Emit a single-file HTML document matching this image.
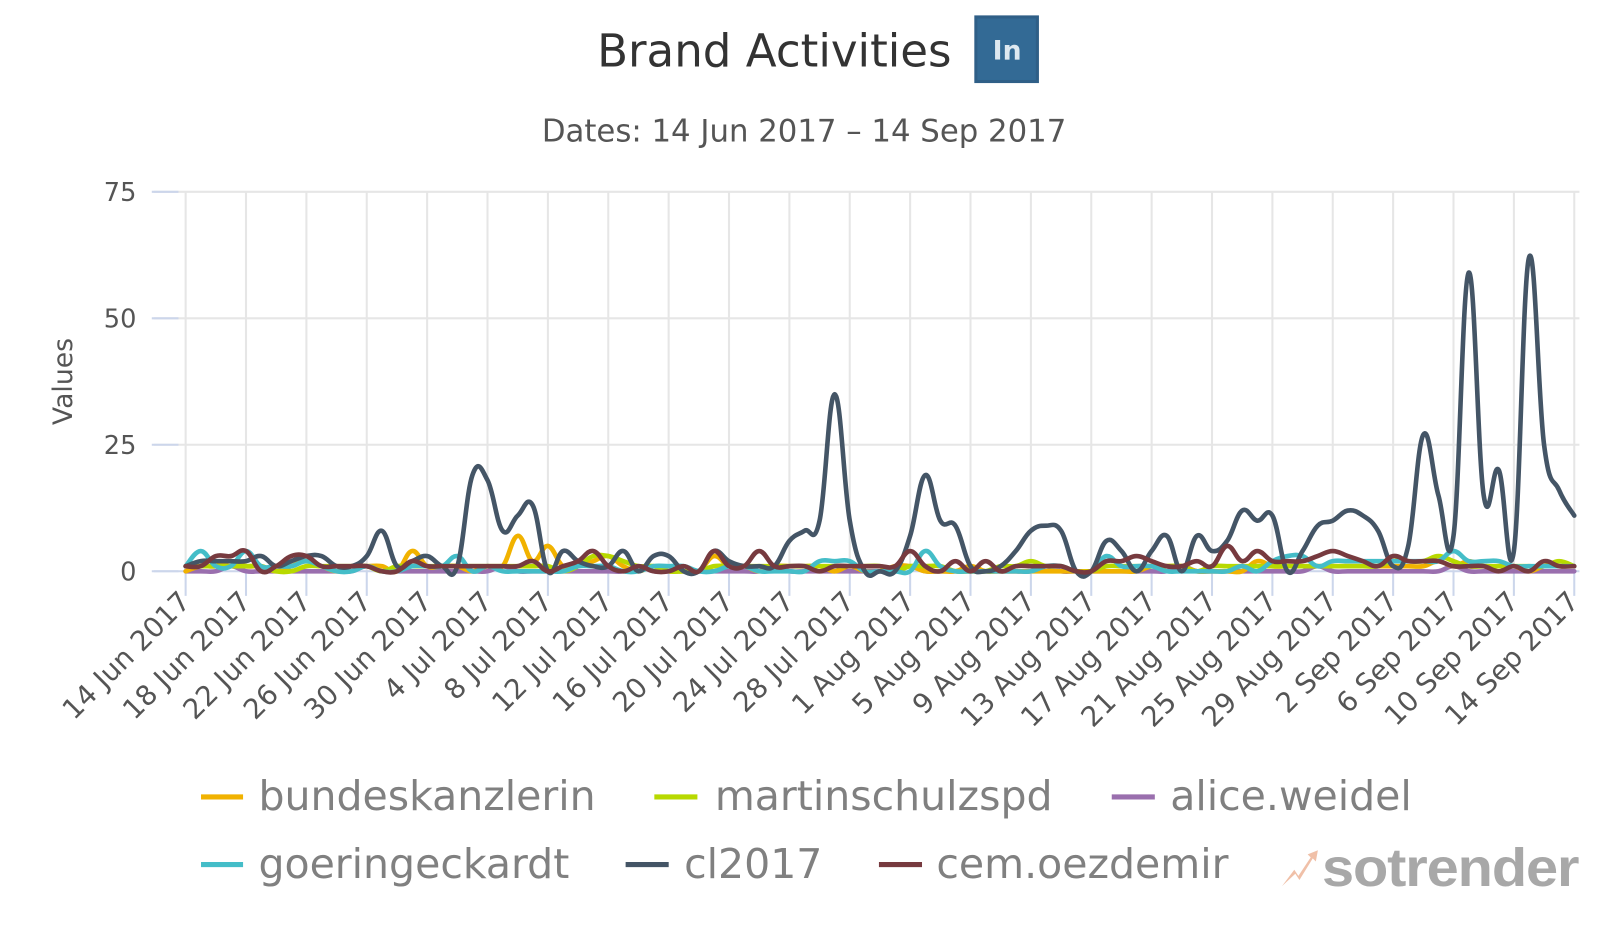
<!DOCTYPE html>
<html><head><meta charset="utf-8"><style>
body{margin:0;background:#fff;overflow:hidden;}
svg{display:block;font-family:"DejaVu Sans","Liberation Sans",sans-serif;}
</style></head><body>
<svg width="1600" height="925" viewBox="0 0 1600 925" xmlns="http://www.w3.org/2000/svg">
<g transform="scale(1.0256)">
<text x="755" y="65" font-size="44" text-anchor="middle" fill="#333">Brand Activities</text>
<rect x="950" y="15" width="63" height="66" fill="#2f5f87"/>
<rect x="953" y="18" width="57" height="60" fill="#336a95"/>
<text x="982" y="58" font-size="26" font-weight="bold" text-anchor="middle" fill="#dde8f0">In</text>
<text x="784" y="138" font-size="30" text-anchor="middle" fill="#555">Dates: 14 Jun 2017 – 14 Sep 2017</text>
<g id="grid"></g>
<text transform="translate(70,372) rotate(-90)" font-size="26" text-anchor="middle" fill="#555">Values</text>
<g id="series" fill="none" stroke-width="4.5" stroke-linejoin="round" stroke-linecap="round"></g>
<g font-size="40" fill="#808080">
<line x1="196" y1="777" x2="237" y2="777" stroke="#f1b200" stroke-width="5"/><text x="252" y="790">bundeskanzlerin</text>
<line x1="638" y1="777" x2="680" y2="777" stroke="#b8d900" stroke-width="5"/><text x="697" y="790">martinschulzspd</text>
<line x1="1084" y1="777" x2="1126" y2="777" stroke="#9a6fae" stroke-width="5"/><text x="1141" y="790">alice.weidel</text>
<line x1="196" y1="843" x2="237" y2="843" stroke="#44bdc8" stroke-width="5"/><text x="252" y="856">goeringeckardt</text>
<line x1="610" y1="843" x2="652" y2="843" stroke="#445566" stroke-width="5"/><text x="667" y="856">cl2017</text>
<line x1="857" y1="843" x2="899" y2="843" stroke="#773a3f" stroke-width="5"/><text x="913" y="856">cem.oezdemir</text>
</g>
<path d="M1250 864 L1262 848 L1266 854 L1278 836 L1275 833 L1285 829 L1283 840 L1280 837 L1267 858 L1263 852 Z" fill="#f0c0a8"/>
<text x="1289" y="864" font-size="52" font-weight="bold" fill="#a8a8a8" letter-spacing="-1" font-family="Liberation Sans, sans-serif" textLength="250" lengthAdjust="spacingAndGlyphs">sotrender</text>
</g>
</svg>
<script>
var NS="http://www.w3.org/2000/svg";
function X(d){return 181+d*14.717;}
function Y(v){return 557-v*4.933;}
var g=document.getElementById('grid');
function el(t,a,p){var e=document.createElementNS(NS,t);for(var k in a)e.setAttribute(k,a[k]);(p||g).appendChild(e);return e;}
[0,25,50,75].forEach(function(v){
 if(v>0)el('line',{x1:150,x2:1540,y1:Y(v),y2:Y(v),stroke:'#e6e6e6','stroke-width':2});
 el('line',{x1:148,x2:174,y1:Y(v),y2:Y(v),stroke:'#ccd6eb','stroke-width':2});
 var t=el('text',{x:133,y:Y(v)+9,'font-size':25,'text-anchor':'end',fill:'#555'});t.textContent=v;
});
var labs=["14 Jun 2017","18 Jun 2017","22 Jun 2017","26 Jun 2017","30 Jun 2017","4 Jul 2017","8 Jul 2017","12 Jul 2017","16 Jul 2017","20 Jul 2017","24 Jul 2017","28 Jul 2017","1 Aug 2017","5 Aug 2017","9 Aug 2017","13 Aug 2017","17 Aug 2017","21 Aug 2017","25 Aug 2017","29 Aug 2017","2 Sep 2017","6 Sep 2017","10 Sep 2017","14 Sep 2017"];
labs.forEach(function(l,i){var x=X(i*4);
 el('line',{x1:x,x2:x,y1:187,y2:557,stroke:'#e6e6e6','stroke-width':2});
 el('line',{x1:x,x2:x,y1:557,y2:581,stroke:'#ccd6eb','stroke-width':2});
 var t=el('text',{transform:'translate('+(x+6)+',588) rotate(-45)','font-size':27,'text-anchor':'end',fill:'#555'});t.textContent=l;});
el('line',{x1:150,x2:1540,y1:557,y2:557,stroke:'#ccd6eb','stroke-width':2});
function path(vals,color){
 var pts=vals.map(function(v,i){return [X(i),Y(v)];});
 var d='M'+pts[0][0]+' '+pts[0][1];
 for(var i=0;i<pts.length-1;i++){
  var p0=pts[i-1]||pts[i],p1=pts[i],p2=pts[i+1],p3=pts[i+2]||p2;
  var t=0.2;
  var c1=[p1[0]+(p2[0]-p0[0])*t,p1[1]+(p2[1]-p0[1])*t],c2=[p2[0]-(p3[0]-p1[0])*t,p2[1]-(p3[1]-p1[1])*t];
  d+=' C'+c1.join(' ')+' '+c2.join(' ')+' '+p2.join(' ');
 }
 el('path',{d:d,stroke:color},document.getElementById('series'));
}
function z(n,f){var a=[];for(var i=0;i<n;i++)a.push(f(i));return a;}
var purple=z(93,function(i){return (i%9==3)?1:0;});
var bund=z(93,function(i){return [0,1,1,2,1,1,0,1,2,1,0,1,1,1,0,4,1,1,1,0,1,1,7,2,5,1,1,2,3,1,0,1,0,0,0,3,1,1,0,1,1,1,1,0,1,0,0,1,1,0,0,0,1,0,0,0,0,0,0,0,0,0,0,0,1,1,1,0,0,0,0,2,1,1,1,1,1,1,1,1,1,1,1,2,1,2,1,1,1,0,1,1,1][i]||0;});
var mart=z(93,function(i){return [1,1,1,1,1,1,0,0,1,1,1,1,1,0,1,1,1,1,1,1,1,1,1,1,1,0,1,3,3,2,1,1,0,0,0,1,1,1,1,1,1,1,1,1,1,1,1,0,1,1,1,0,0,0,1,1,2,1,1,0,0,1,1,1,1,1,1,0,1,1,1,1,1,1,1,1,1,1,1,1,2,2,2,3,2,1,1,1,1,1,1,2,1][i];});
var goer=z(93,function(i){return [1,4,1,1,4,1,1,1,2,1,0,0,1,0,0,1,1,1,3,0,1,0,0,0,0,0,1,1,1,0,0,1,1,1,0,0,1,1,0,0,0,0,2,2,2,0,0,0,0,4,1,0,0,0,0,0,0,1,1,0,0,3,1,1,1,0,0,0,0,0,1,0,2,3,3,1,2,2,2,2,2,2,2,2,4,2,2,2,1,1,1,1,1][i];});
var cl=[1,2,2,2,2,3,1,2,3,3,1,1,3,8,1,2,3,1,1,19,18,8,11,13,0,4,2,1,1,4,0,3,3,0,0,4,2,1,1,1,6,8,10,35,10,0,0,0,7,19,10,9,1,0,1,4,8,9,8,0,0,6,4,0,4,7,0,7,4,6,12,10,11,0,4,9,10,12,11,8,1,5,27,15,7,59,15,20,4,62,25,16,11];
var cem=[1,1,3,3,4,0,1,3,3,1,1,1,1,0,0,2,1,1,1,1,1,1,1,2,0,1,2,4,1,0,1,0,0,1,0,4,1,1,4,1,1,1,0,1,1,1,1,1,4,1,0,2,0,2,0,1,1,1,1,0,0,2,2,3,2,1,1,2,1,5,2,4,2,2,2,3,4,3,2,1,3,2,2,2,1,1,1,0,1,0,2,1,1];
path(purple,'#9a6fae');path(bund,'#f1b200');path(mart,'#b8d900');path(goer,'#44bdc8');path(cl,'#445566');path(cem,'#773a3f');
</script>
</body></html>
